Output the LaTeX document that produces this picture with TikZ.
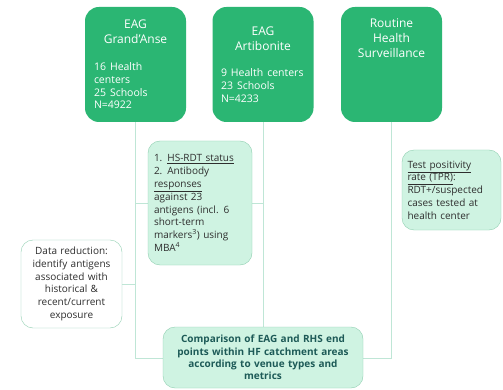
\documentclass[tikz,border=0pt]{standalone}
\usepackage{fontspec}
\setmainfont{Open Sans}
\usetikzlibrary{backgrounds}
\definecolor{eaggreen}{HTML}{2BB673}
\definecolor{mintfill}{HTML}{CFF3E2}
\definecolor{mintdraw}{HTML}{8FCFB0}
\definecolor{linkline}{HTML}{BFE6D6}
\definecolor{darkteal}{HTML}{1D5A57}
\definecolor{bodytext}{HTML}{2E2E2E}
\begin{document}
\begin{tikzpicture}[
	x=1pt, y=-1pt,
	site/.style={ rectangle, rounded corners=14pt, fill=eaggreen, text=white, inner sep=0pt, minimum width=101pt, minimum height=115pt, font=\fontsize{12}{15}\selectfont },
	note/.style={ rectangle, rounded corners=12pt, draw=mintdraw, fill=mintfill, text=bodytext, inner sep=0pt, font=\fontsize{10}{12.8}\selectfont },
	plainnote/.style={ note, fill=white },
	link/.style={ draw=linkline, line width=0.8pt }
]

\node at (135.5,64.5) (ga) [site,text width=83pt] {{\centering EAG\\Grand'Anse\par}\vspace{14pt}{\fontsize{10.5}{12.8}\selectfont 16 Health\\centers\\25 Schools\\N=4922\par}};
\node at (263,64.5) (art) [site,text width=84pt] {{\centering EAG\\Artibonite\par}\vspace{14pt}{\fontsize{10.5}{12.8}\selectfont 9 Health centers\\23 Schools\\N=4233\par}};
\node at (391.5,64.5) (rhs) [site,text width=90pt] {{\centering Routine\\Health\\Surveillance\par}\vspace{52pt}};

\node at (200,203) (rdt) [note,minimum width=104pt,minimum height=124pt,text width=92pt,align=left] {1. \underline{HS-RDT status}\\2. Antibody\\\underline{responses}\\against 23\\antigens (incl. 6\\short-term\\markers\textsuperscript{3}) using\\MBA\textsuperscript{4}};
\node at (451.5,190) (tpr) [note,minimum width=99pt,minimum height=80pt,text width=88pt,align=left] {\underline{Test positivity}\\\underline{rate (TPR)}:\\RDT+/suspected\\cases tested at\\health center};
\node at (71.5,284) (dr) [plainnote,minimum width=101pt,minimum height=88pt,text width=94pt,align=center] {Data reduction:\\identify antigens\\associated with\\historical \&\\recent/current\\exposure};
\node at (263,357.5) (comp) [note,minimum width=200pt,minimum height=61pt,text width=194pt,align=center,text=darkteal,font=\bfseries\fontsize{10}{12.4}\selectfont] {Comparison of EAG and RHS end\\points within HF catchment areas\\according to venue types and\\metrics};

\coordinate (gajoin) at (ga.south |- 0,358);
\coordinate (rhsjoin) at (rhs.south |- 0,358);

\begin{scope}[on background layer]
\fill[white] (0,0) rectangle (503,390);
\draw[link] (ga.south) -- (gajoin) -- (rhsjoin) -- (rhs.south);
\draw[link] (art.south) -- (comp.north);
\draw[link] (ga.south |- rdt.west) -- (art.south |- rdt.east);
\draw[link] (dr.east) -- (ga.south |- dr.east);
\end{scope}

\end{tikzpicture}
\end{document}
